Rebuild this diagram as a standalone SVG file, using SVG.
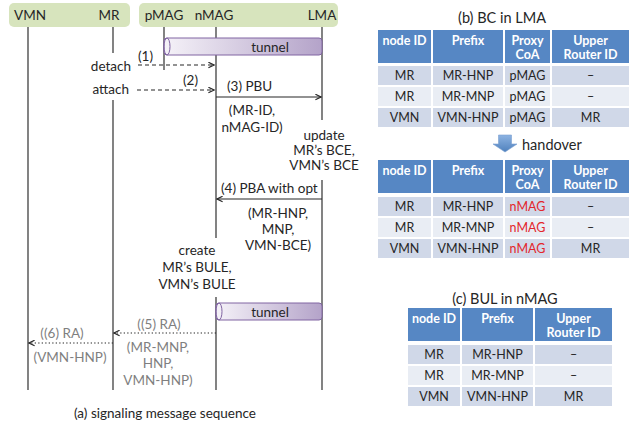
<svg xmlns="http://www.w3.org/2000/svg" width="634" height="425" viewBox="0 0 634 425">
<style>
text{font-family:Lato,"Open Sans","Liberation Sans",sans-serif;fill:#262626}
.t{font-size:13.5px}
.m{text-anchor:middle}
.e{text-anchor:end}
.g{fill:#7f7f7f}
.life{stroke:#404040;stroke-width:1.3;fill:none}
.msg{stroke:#262626;stroke-width:1.2;fill:none}
.dash{stroke-dasharray:4,3}
.dot{stroke-dasharray:1.3,2.2}
.hdr{fill:#d7e4bd}
.tun{fill:url(#tg);stroke:#8064a2;stroke-width:1}
.tt{font-size:14.5px}
.th{fill:#5687c4;stroke:#fff;stroke-width:2}
.r1{fill:#d0d8e8;stroke:#fff;stroke-width:2}
.r2{fill:#e9edf4;stroke:#fff;stroke-width:2}
.hx{font-size:12.5px;font-weight:bold;fill:#fff;text-anchor:middle}
.cx{font-size:12.5px;text-anchor:middle}
.red{fill:#e3262b}
</style>
<defs>
<linearGradient id="tg" x1="0" y1="0" x2="1" y2="0">
<stop offset="0" stop-color="#f5f2f8"/>
<stop offset="1" stop-color="#b4a3c9"/>
</linearGradient>
<linearGradient id="bg" x1="0" y1="0" x2="0" y2="1">
<stop offset="0" stop-color="#8db3e2"/>
<stop offset="1" stop-color="#4f81bd"/>
</linearGradient>
<marker id="ah" viewBox="0 0 10 10" refX="9" refY="5" markerWidth="7" markerHeight="7" markerUnits="userSpaceOnUse" orient="auto">
<path d="M1,1 L9,5 L1,9" fill="none" stroke="#262626" stroke-width="1.6"/>
</marker>
</defs>

<g id="headers">
<rect class="hdr" x="9" y="3" width="121" height="24" rx="5"/>
<rect class="hdr" x="139" y="3" width="199" height="24" rx="5"/>
</g>

<g id="VMN"><text class="t m" x="30" y="20">VMN</text><line class="life" x1="28" y1="27" x2="28" y2="390"/></g>
<g id="MR"><text class="t m" x="109" y="20">MR</text><line class="life" x1="113" y1="27" x2="113" y2="53"/><line class="life" x1="113" y1="100" x2="113" y2="390"/></g>
<g id="pMAG"><text class="t m" x="164" y="20">pMAG</text><line class="life" x1="164" y1="27" x2="164" y2="70"/></g>
<g id="nMAG"><text class="t m" x="214" y="20">nMAG</text><line class="life" x1="216" y1="27" x2="216" y2="238"/><line class="life" x1="216" y1="297" x2="216" y2="390"/></g>
<g id="LMA"><text class="t m" x="322" y="20">LMA</text><line class="life" x1="322" y1="27" x2="322" y2="120"/><line class="life" x1="322" y1="180" x2="322" y2="390"/></g>

<g id="tunnel1">
<rect class="tun" x="164" y="38" width="158" height="17" rx="3"/>
<ellipse cx="167" cy="46.5" rx="3" ry="8.5" fill="none" stroke="#8064a2" stroke-width="1"/>
<text class="t m" x="270" y="52">tunnel</text>
</g>
<g id="tunnel2">
<rect class="tun" x="216" y="303" width="106" height="17" rx="3"/>
<ellipse cx="219" cy="311.5" rx="3" ry="8.5" fill="none" stroke="#8064a2" stroke-width="1"/>
<text class="t m" x="270" y="317">tunnel</text>
</g>

<g id="connectors">
<line class="msg dash" x1="138" y1="65" x2="214" y2="65" marker-end="url(#ah)"/>
<line class="msg dash" x1="137" y1="90" x2="214" y2="90" marker-end="url(#ah)"/>
<line class="msg" x1="216" y1="97" x2="321" y2="97" marker-end="url(#ah)"/>
<line class="msg" x1="322" y1="199" x2="217" y2="199" marker-end="url(#ah)"/>
<line class="msg dot" x1="216" y1="333" x2="114" y2="333" marker-end="url(#ah)"/>
<line class="msg dot" x1="113" y1="343" x2="29" y2="343" marker-end="url(#ah)"/>
</g>

<g id="labels">
<text class="t" x="138" y="61">(1)</text>
<text class="t e" x="131" y="71">detach</text>
<text class="t" x="183" y="85">(2)</text>
<text class="t e" x="129" y="94">attach</text>
<text class="t" x="227" y="91">(3) PBU</text>
<text class="t m" x="252" y="115">(MR-ID,</text>
<text class="t m" x="252" y="132">nMAG-ID)</text>
<text class="t m" x="324" y="140">update</text>
<text class="t m" x="324" y="155">MR’s BCE,</text>
<text class="t m" x="324" y="170">VMN’s BCE</text>
<text class="t" x="221" y="193">(4) PBA with opt</text>
<text class="t m" x="278" y="218">(MR-HNP,</text>
<text class="t m" x="278" y="234">MNP,</text>
<text class="t m" x="278" y="250">VMN-BCE)</text>
<text class="t m" x="197" y="255">create</text>
<text class="t m" x="197" y="272">MR’s BULE,</text>
<text class="t m" x="197" y="289">VMN’s BULE</text>
<text class="t m g" x="159" y="329">((5) RA)</text>
<text class="t m g" x="158" y="352">(MR-MNP,</text>
<text class="t m g" x="158" y="368">HNP,</text>
<text class="t m g" x="158" y="385">VMN-HNP)</text>
<text class="t m g" x="62" y="338">((6) RA)</text>
<text class="t m g" x="70" y="362">(VMN-HNP)</text>
<text class="t m" x="165" y="418">(a) signaling message sequence</text>
</g>

<g id="tableB">
<text class="tt m" x="502" y="23">(b) BC in LMA</text>
<rect class="th" x="377" y="29" width="55" height="35"/>
<rect class="th" x="432" y="29" width="72" height="35"/>
<rect class="th" x="504" y="29" width="47" height="35"/>
<rect class="th" x="551" y="29" width="79" height="35"/>
<text class="hx" x="404.5" y="45">node ID</text>
<text class="hx" x="468" y="45">Prefix</text>
<text class="hx" x="527.5" y="45">Proxy</text>
<text class="hx" x="527.5" y="59">CoA</text>
<text class="hx" x="590.5" y="45">Upper</text>
<text class="hx" x="590.5" y="59">Router ID</text>
<rect class="r1" x="377" y="65" width="55" height="21"/><rect class="r1" x="432" y="65" width="72" height="21"/><rect class="r1" x="504" y="65" width="47" height="21"/><rect class="r1" x="551" y="65" width="79" height="21"/>
<rect class="r2" x="377" y="86" width="55" height="21"/><rect class="r2" x="432" y="86" width="72" height="21"/><rect class="r2" x="504" y="86" width="47" height="21"/><rect class="r2" x="551" y="86" width="79" height="21"/>
<rect class="r1" x="377" y="107" width="55" height="21"/><rect class="r1" x="432" y="107" width="72" height="21"/><rect class="r1" x="504" y="107" width="47" height="21"/><rect class="r1" x="551" y="107" width="79" height="21"/>
<text class="cx" x="404.5" y="80">MR</text><text class="cx" x="468" y="80">MR-HNP</text><text class="cx" x="527.5" y="80">pMAG</text><text class="cx" x="590.5" y="80">–</text>
<text class="cx" x="404.5" y="101">MR</text><text class="cx" x="468" y="101">MR-MNP</text><text class="cx" x="527.5" y="101">pMAG</text><text class="cx" x="590.5" y="101">–</text>
<text class="cx" x="404.5" y="122">VMN</text><text class="cx" x="468" y="122">VMN-HNP</text><text class="cx" x="527.5" y="122">pMAG</text><text class="cx" x="590.5" y="122">MR</text>
</g>

<g id="handover">
<path d="M498.5,135 H511.5 V144 H517 L505,152 L493,144 H498.5 Z" fill="url(#bg)" stroke="#7aa0d0" stroke-width="0.6"/>
<text class="tt" x="522" y="150">handover</text>
</g>

<g id="tableB2">
<rect class="th" x="377" y="159" width="55" height="35"/>
<rect class="th" x="432" y="159" width="72" height="35"/>
<rect class="th" x="504" y="159" width="47" height="35"/>
<rect class="th" x="551" y="159" width="79" height="35"/>
<text class="hx" x="404.5" y="175">node ID</text>
<text class="hx" x="468" y="175">Prefix</text>
<text class="hx" x="527.5" y="175">Proxy</text>
<text class="hx" x="527.5" y="189">CoA</text>
<text class="hx" x="590.5" y="175">Upper</text>
<text class="hx" x="590.5" y="189">Router ID</text>
<rect class="r1" x="377" y="196" width="55" height="21"/><rect class="r1" x="432" y="196" width="72" height="21"/><rect class="r1" x="504" y="196" width="47" height="21"/><rect class="r1" x="551" y="196" width="79" height="21"/>
<rect class="r2" x="377" y="217" width="55" height="21"/><rect class="r2" x="432" y="217" width="72" height="21"/><rect class="r2" x="504" y="217" width="47" height="21"/><rect class="r2" x="551" y="217" width="79" height="21"/>
<rect class="r1" x="377" y="238" width="55" height="21"/><rect class="r1" x="432" y="238" width="72" height="21"/><rect class="r1" x="504" y="238" width="47" height="21"/><rect class="r1" x="551" y="238" width="79" height="21"/>
<text class="cx" x="404.5" y="211">MR</text><text class="cx" x="468" y="211">MR-HNP</text><text class="cx red" x="527.5" y="211">nMAG</text><text class="cx" x="590.5" y="211">–</text>
<text class="cx" x="404.5" y="232">MR</text><text class="cx" x="468" y="232">MR-MNP</text><text class="cx red" x="527.5" y="232">nMAG</text><text class="cx" x="590.5" y="232">–</text>
<text class="cx" x="404.5" y="253">VMN</text><text class="cx" x="468" y="253">VMN-HNP</text><text class="cx red" x="527.5" y="253">nMAG</text><text class="cx" x="590.5" y="253">MR</text>
</g>

<g id="tableC">
<text class="tt m" x="505" y="304">(c) BUL in nMAG</text>
<rect class="th" x="407" y="307" width="54" height="35"/>
<rect class="th" x="461" y="307" width="73" height="35"/>
<rect class="th" x="534" y="307" width="79" height="35"/>
<text class="hx" x="434" y="323">node ID</text>
<text class="hx" x="497.5" y="323">Prefix</text>
<text class="hx" x="573.5" y="323">Upper</text>
<text class="hx" x="573.5" y="337">Router ID</text>
<rect class="r1" x="407" y="344" width="54" height="21"/><rect class="r1" x="461" y="344" width="73" height="21"/><rect class="r1" x="534" y="344" width="79" height="21"/>
<rect class="r2" x="407" y="365" width="54" height="21"/><rect class="r2" x="461" y="365" width="73" height="21"/><rect class="r2" x="534" y="365" width="79" height="21"/>
<rect class="r1" x="407" y="386" width="54" height="21"/><rect class="r1" x="461" y="386" width="73" height="21"/><rect class="r1" x="534" y="386" width="79" height="21"/>
<text class="cx" x="434" y="359">MR</text><text class="cx" x="497.5" y="359">MR-HNP</text><text class="cx" x="573.5" y="359">–</text>
<text class="cx" x="434" y="380">MR</text><text class="cx" x="497.5" y="380">MR-MNP</text><text class="cx" x="573.5" y="380">–</text>
<text class="cx" x="434" y="401">VMN</text><text class="cx" x="497.5" y="401">VMN-HNP</text><text class="cx" x="573.5" y="401">MR</text>
</g>
</svg>
